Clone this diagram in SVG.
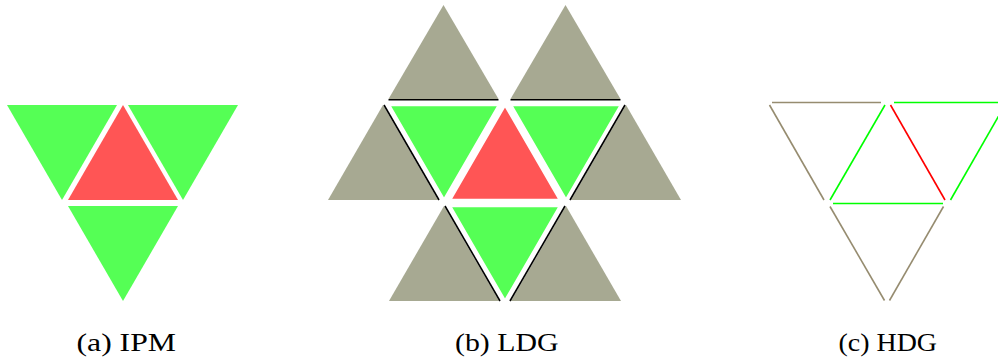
<svg xmlns="http://www.w3.org/2000/svg" width="998" height="363" viewBox="0 0 998 363">
<style>
.g{fill:#55ff55}
.r{fill:#ff5555}
.k{fill:#a7a992}
.w{stroke:#ffffff;stroke-width:2.5;stroke-linejoin:miter}
.bl{stroke:#000000;stroke-width:1.6;fill:none}
.lg{stroke:#00ff00;stroke-width:1.6;fill:none}
.lr{stroke:#ff0000;stroke-width:1.6;fill:none}
.lb{stroke:#968c70;stroke-width:1.6;fill:none}
.cap{font-family:"Liberation Serif","DejaVu Serif",serif;font-size:25px;fill:#000;text-anchor:start}
</style>
<rect width="998" height="363" fill="#ffffff"/>
<!-- Panel (a) -->
<g id="panel-a">
  <g id="a-left"><polygon class="g" points="7,105 117,105 62,200"/></g>
  <g id="a-center"><polygon class="r" points="123,105 68,200 178,200"/></g>
  <g id="a-right"><polygon class="g" points="128,105 238,105 183,200"/></g>
  <g id="a-bottom"><polygon class="g" points="68,206 178,206 123,301"/></g>
</g>
<!-- Panel (b) -->
<g id="panel-b">
  <g id="b-gray-tl"><polygon class="k" points="443.5,5 388.5,99 498.5,99"/></g>
  <g id="b-gray-tr"><polygon class="k" points="565.5,5 510.5,99 620.5,99"/></g>
  <g id="b-gray-l"><polygon class="k" points="383,105 328,200 438,200"/></g>
  <g id="b-gray-r"><polygon class="k" points="626,105 571,200 681,200"/></g>
  <g id="b-gray-bl"><polygon class="k" points="444,206 389,301 499,301"/></g>
  <g id="b-gray-br"><polygon class="k" points="566,206 511,301 621,301"/></g>
  <g id="b-green-ul"><polygon class="g w" points="389,105 499,105 444,200"/></g>
  <g id="b-red"><polygon class="r w" points="505,105 450,200 560,200"/></g>
  <g id="b-green-ur"><polygon class="g w" points="511,105 621,105 566,200"/></g>
  <g id="b-green-b"><polygon class="g w" points="450,206 560,206 505,301"/></g>
  <g id="b-edges">
    <line class="bl" x1="388.5" y1="99.8" x2="498.5" y2="99.8"/>
    <line class="bl" x1="510.5" y1="99.8" x2="620.5" y2="99.8"/>
    <line class="bl" x1="384" y1="105" x2="439" y2="200"/>
    <line class="bl" x1="625" y1="105" x2="570" y2="200"/>
    <line class="bl" x1="445" y1="206" x2="500" y2="301"/>
    <line class="bl" x1="565" y1="206" x2="510" y2="301"/>
  </g>
</g>
<!-- Panel (c) -->
<g id="panel-c">
  <line class="lb" x1="772" y1="102.5" x2="881" y2="102.5"/>
  <line class="lb" x1="769.5" y1="105" x2="824" y2="200"/>
  <line class="lg" x1="885" y1="105" x2="830" y2="200"/>
  <line class="lr" x1="890.5" y1="105" x2="945" y2="200"/>
  <line class="lg" x1="894" y1="102.5" x2="1003" y2="102.5"/>
  <line class="lg" x1="1005" y1="105" x2="950.5" y2="200"/>
  <line class="lg" x1="833" y1="203.5" x2="943" y2="203.5"/>
  <line class="lb" x1="830" y1="206.5" x2="884.5" y2="300.5"/>
  <line class="lb" x1="943.5" y1="206.5" x2="889.5" y2="300.5"/>
</g>
<!-- Captions -->
<g id="captions">
  <text class="cap" x="76.5" y="351" textLength="99.5" lengthAdjust="spacingAndGlyphs">(a) IPM</text>
  <text class="cap" x="455" y="351" textLength="103.5" lengthAdjust="spacingAndGlyphs">(b) LDG</text>
  <text class="cap" x="838.5" y="351" textLength="98.5" lengthAdjust="spacingAndGlyphs">(c) HDG</text>
</g>
</svg>
